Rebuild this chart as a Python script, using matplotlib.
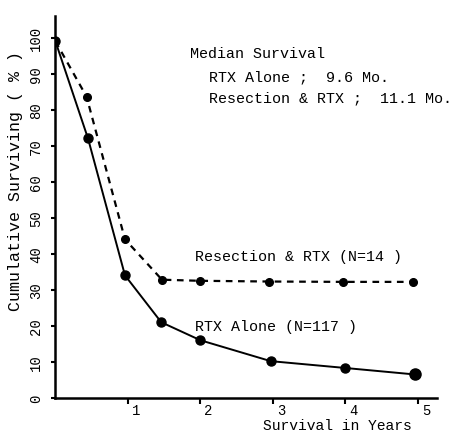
import matplotlib.pyplot as plt
from matplotlib.transforms import ScaledTranslation

# values
years_rtx = [0, 0.45, 0.96, 1.46, 2.0, 2.97, 4.0, 4.96]
surv_rtx = [99, 72, 34, 21, 16, 10.2, 8.3, 6.5]
years_res = [0, 0.43, 0.96, 1.47, 1.99, 2.94, 3.97, 4.93]
surv_res = [99, 83.6, 44, 32.8, 32.5, 32.3, 32.2, 32.2]
yticks = [0, 10, 20, 30, 40, 50, 60, 70, 80, 90, 100]
xticks = [1, 2, 3, 4, 5]

plt.rcParams['font.family'] = ['Liberation Mono', 'DejaVu Sans Mono']

fig = plt.figure(figsize=(4.54, 4.35), dpi=100)
ax = fig.add_axes([0.122, 0.083, 0.840, 0.878])

ax.plot(years_rtx, surv_rtx, '-', color='black', lw=1.4,
        marker='o', ms=6.5)
ax.plot(years_res, surv_res, '--', color='black', lw=1.6,
        dashes=(3, 2.5), marker='o', ms=5.5)
# last point of RTX curve looks a bit bigger
ax.plot(years_rtx[-1:], surv_rtx[-1:], 'o', color='black', ms=8)

ax.set_xlim(0, 5.26)
ax.set_ylim(0, 106)
for s in ['top', 'right']:
    ax.spines[s].set_visible(False)
for s in ['left', 'bottom']:
    ax.spines[s].set_linewidth(1.8)

ax.set_yticks(yticks)
ax.set_yticklabels([str(v) for v in yticks], rotation=90, va='center',
                   fontsize=10)
ax.tick_params(axis='y', direction='out', length=3, width=1.5, pad=6)
ax.set_xticks(xticks)
ax.set_xticklabels([str(v) for v in xticks], ha='left', fontsize=10)
ax.tick_params(axis='x', direction='out', length=4, width=1.5, pad=0)
off = ScaledTranslation(4 / 100, 0, fig.dpi_scale_trans)
for lab in ax.get_xticklabels():
    lab.set_transform(lab.get_transform() + off)

ax.set_ylabel('Cumulative Surviving ( % )', fontsize=12)
ax.yaxis.set_label_coords(-0.085, 0.57)
fig.text(337 / 454, 1 - 426 / 435, 'Survival in Years', fontsize=10.5,
         ha='center', va='center')

fig.text(190 / 454, 1 - 54 / 435, 'Median Survival', fontsize=10.8,
         va='center')
fig.text(209 / 454, 1 - 77 / 435, 'RTX Alone ;  9.6 Mo.', fontsize=10.8,
         va='center')
fig.text(209 / 454, 1 - 98 / 435, 'Resection & RTX ;  11.1 Mo.',
         fontsize=10.8, va='center')

fig.text(195 / 454, 1 - 257 / 435, 'Resection & RTX (N=14 )', fontsize=10.8,
         va='center')
fig.text(195 / 454, 1 - 327 / 435, 'RTX Alone (N=117 )', fontsize=10.8,
         va='center')

fig.savefig('out.png', dpi=100)
